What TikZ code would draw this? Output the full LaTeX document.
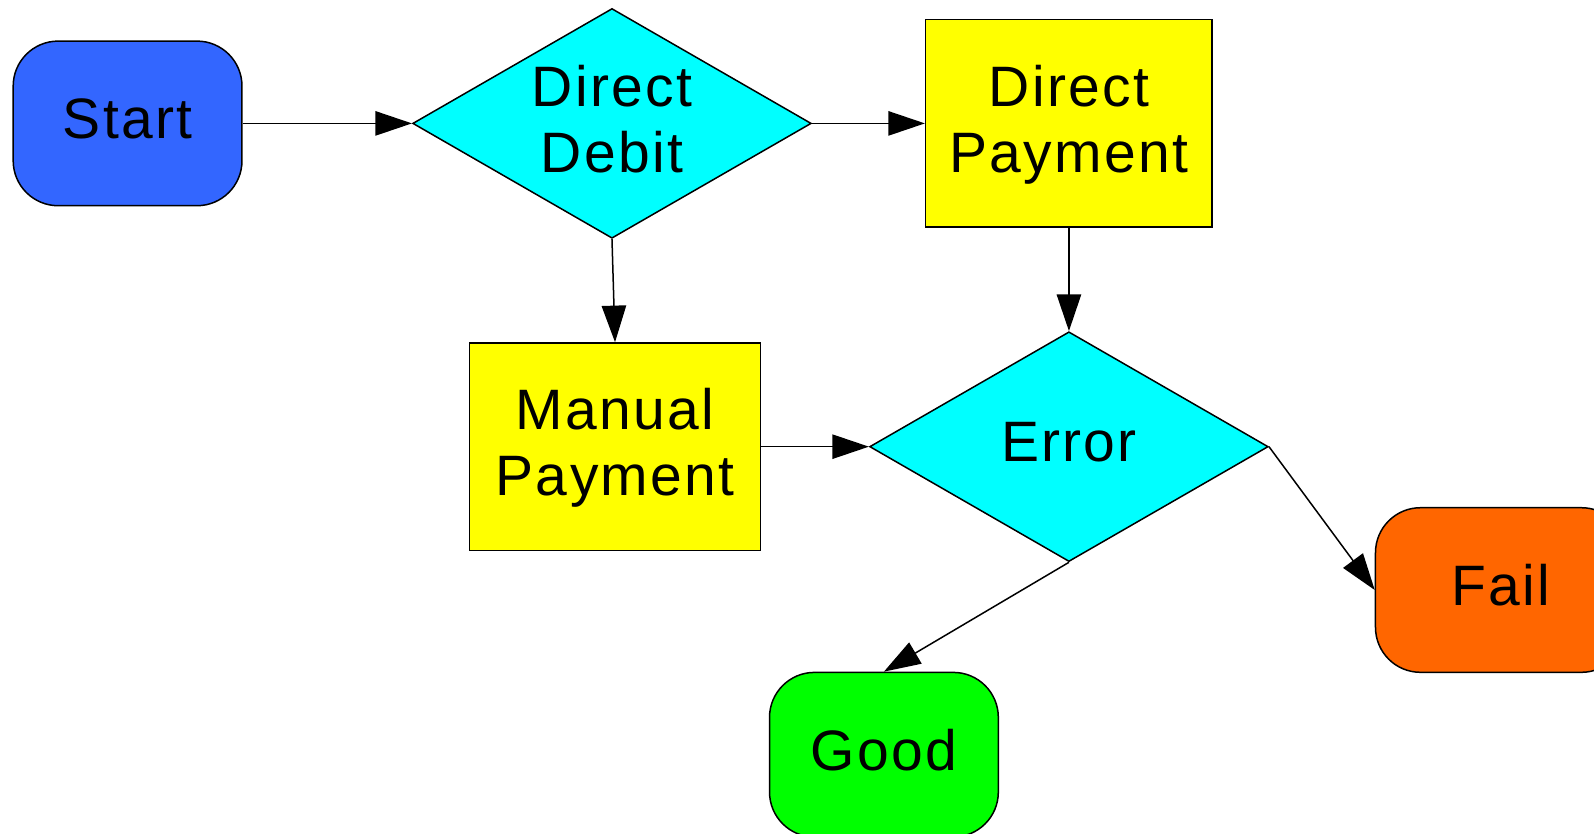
\documentclass[tikz,border=0pt]{standalone}
\usepackage{fontspec}
\setmainfont[LetterSpace=4]{Liberation Sans}
\usetikzlibrary{shapes.geometric, arrows.meta}
\tikzset{>={Triangle[length=18.3pt, width=12.2pt]}}
\definecolor{startblue}{RGB}{51,102,255}
\definecolor{failorange}{RGB}{255,102,0}
\definecolor{testcyan}{RGB}{0,255,255}
\definecolor{procyellow}{RGB}{255,255,0}
\definecolor{goodgreen}{RGB}{0,255,0}
\tikzset{
	base/.style={draw, line width=.75pt, inner sep=0pt, text depth=5pt, align=center, font=\fontsize{28.5}{33}\selectfont},
	term/.style={base, rectangle, rounded corners=22.5pt, minimum width=114.4pt, minimum height=82.3pt},
	proc/.style={base, rectangle, fill=procyellow, minimum width=143.3pt, minimum height=103.7pt},
	test/.style={base, diamond, fill=testcyan, aspect=1.74, minimum width=199.3pt, minimum height=114.9pt}
}

\begin{document}
\begin{tikzpicture}[x=1.0166pt, y=1.0166pt, line width=.75pt]
    \useasboundingbox(0, 0) rectangle (784, 410.2);
    \node[term, fill=startblue](start) at (62.75, 349.5){Start};
    \node[test](debit) at (301, 349.5){Direct\\Debit};
    \node[proc](direct) at (525.75, 349.5){Direct\\Payment};
    \node[proc, minimum width=145.4pt](manual) at (302.5, 190.5){Manual\\Payment};
    \node[test](error) at (525.75, 190.5){Error};
    \node[term, fill=failorange, minimum width=125.5pt](fail) at (738.25, 120){Fail};
    \node[term, fill=goodgreen](good) at (434.75, 39){Good};
    \draw[->](start.east)--(debit.west);
    \draw[->](debit.east)--(direct.west);
    \draw[->](debit.south)--(manual.north);
    \draw[->](direct.south)--(error.north);
    \draw[->](manual.east)--(error.west);
    \draw[->](error.east)--(fail.west);
    \draw[->](error.south)--(good.north);
\end{tikzpicture}
\end{document}
